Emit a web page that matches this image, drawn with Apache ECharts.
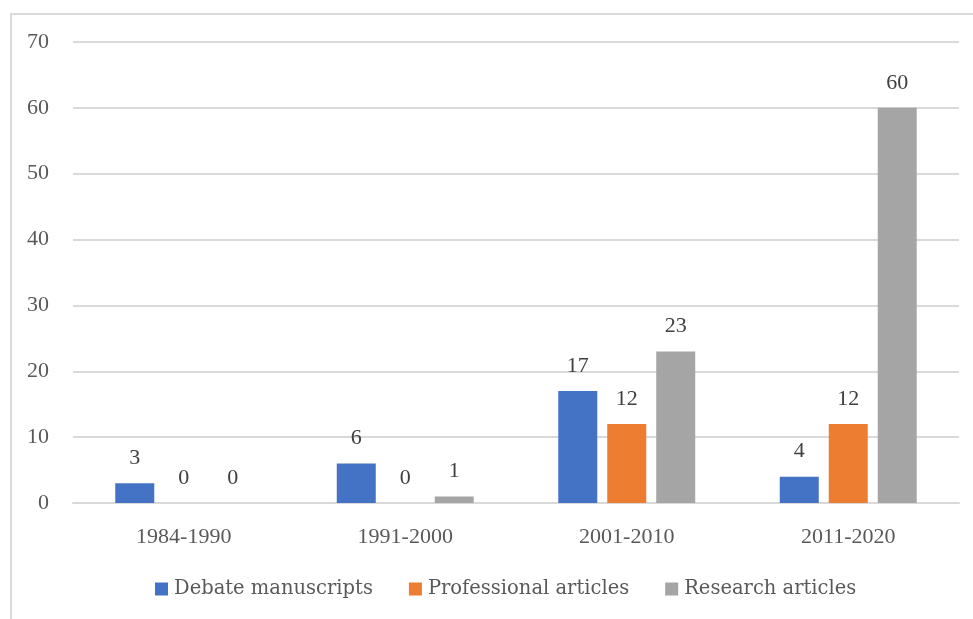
<!DOCTYPE html>
<html><head><meta charset="utf-8">
<script src="https://cdn.jsdelivr.net/npm/echarts@6/dist/echarts.min.js"></script>
<style>html,body{margin:0;padding:0;background:#fff}#c{width:973px;height:619px}</style>
</head><body><div id="c"></div>
<script>
const categories = ['1984-1990', '1991-2000', '2001-2010', '2011-2020'];
const debateManuscripts = [3, 6, 17, 4];
const professionalArticles = [0, 0, 12, 12];
const researchArticles = [0, 1, 23, 60];
const seriesNames = ['Debate manuscripts', 'Professional articles', 'Research articles'];
const colors = ['#4472C4', '#ED7D31', '#A5A5A5'];

const font = 'Liberation Serif';
const txt = '#595959';
const chart = echarts.init(document.getElementById('c'));
const mk = (name, data, color) => ({
  name, type: 'bar', data, barWidth: 39, barGap: '25.6%',
  itemStyle: { color },
  label: { show: true, position: 'top', distance: 14, color: '#404040', fontFamily: font, fontSize: 22 }
});
chart.setOption({
  animation: false,
  graphic: [{ type: 'rect', shape: { x: 11, y: 14, width: 1200, height: 800 }, style: { fill: 'none', stroke: '#d9d9d9', lineWidth: 2 }, silent: true, z: -1 }],
  grid: { left: 73, right: 14, top: 42, bottom: 116 },
  legend: {
    bottom: 15, left: 150, itemWidth: 13, itemHeight: 13, itemGap: 36,
    icon: 'rect',
    textStyle: { color: txt, fontFamily: 'DejaVu Serif', fontSize: 19.5, padding: [0, 0, 0, 1] },
    data: seriesNames
  },
  xAxis: {
    type: 'category', data: categories,
    axisLine: { lineStyle: { color: '#d9d9d9', width: 2 } },
    axisTick: { show: false },
    axisLabel: { color: txt, fontFamily: font, fontSize: 22, margin: 23 }
  },
  yAxis: {
    type: 'value', min: 0, max: 70, interval: 10,
    axisLine: { show: false }, axisTick: { show: false },
    splitLine: { lineStyle: { color: '#d9d9d9', width: 2 } },
    axisLabel: { color: txt, fontFamily: font, fontSize: 22, margin: 24 }
  },
  series: [
    mk(seriesNames[0], debateManuscripts, colors[0]),
    mk(seriesNames[1], professionalArticles, colors[1]),
    mk(seriesNames[2], researchArticles, colors[2])
  ]
});
</script></body></html>
